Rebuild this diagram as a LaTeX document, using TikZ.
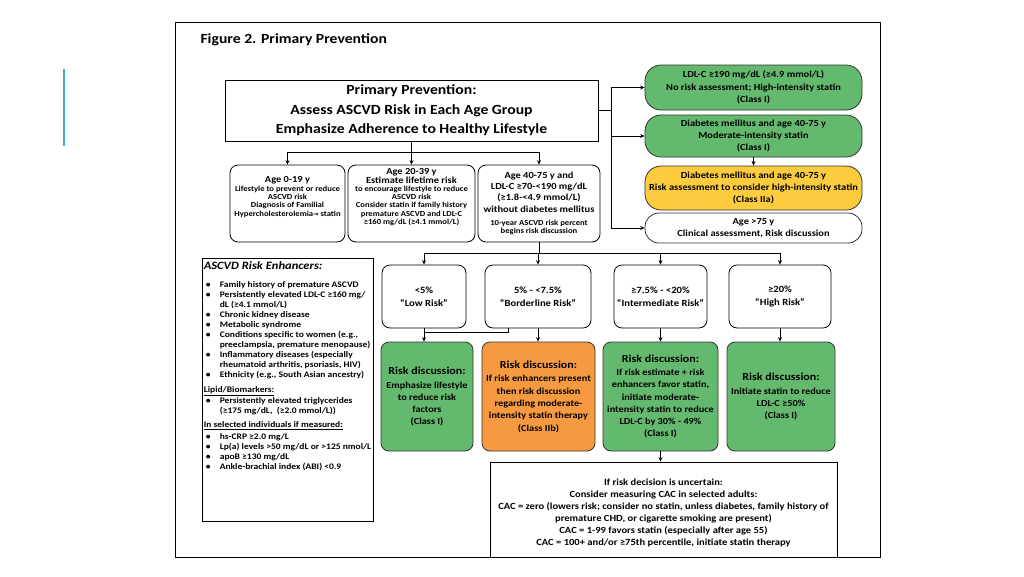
\documentclass[tikz,border=0pt]{standalone}
\usepackage{fontspec}
\setmainfont{Carlito}[FakeStretch=1.12]
\newfontfamily\symfont{DejaVu Sans}
\usetikzlibrary{arrows.meta,calc}

\definecolor{riskgreen}{RGB}{99,186,110}
\definecolor{riskyellow}{RGB}{253,204,62}
\definecolor{riskorange}{RGB}{246,154,66}
\definecolor{slidecyan}{RGB}{75,172,198}

\newcommand{\tightlines}{\lineskiplimit=-5pt\relax}
\tikzset{
	arr/.style={-{Stealth[length=4.5pt,width=4pt]}, line width=0.7pt},
	plain/.style={line width=0.7pt},
	mainbox/.style={draw, line width=0.8pt, minimum width=373pt, minimum height=61pt, inner sep=0pt, align=center, font=\fontsize{14}{19.5}\selectfont\bfseries},
	agebox/.style={draw, line width=0.8pt, rounded corners=8pt, minimum height=77pt, inner sep=0pt, align=center, font=\fontsize{7.7}{8.3}\selectfont\bfseries\tightlines},
	pillbox/.style={draw=black!80, line width=0.8pt, rounded corners=16pt, minimum width=217pt, inner sep=0pt, align=center, font=\fontsize{9.3}{12.3}\selectfont\bfseries},
	riskbox/.style={draw, line width=0.8pt, rounded corners=8pt, minimum height=63pt, inner sep=0pt, align=center, font=\fontsize{9.5}{13}\selectfont\bfseries},
	discbox/.style={draw=black!80, line width=0.8pt, rounded corners=8pt, minimum height=109pt, inner sep=0pt, align=center, font=\fontsize{9.2}{12.3}\selectfont\bfseries},
}
\newcommand{\agebig}{\fontsize{9.3}{11}\selectfont}
\newcommand{\dischead}{\fontsize{10.7}{12}\selectfont}
% lines set as one block, moved up by #1 inside its box
\newcommand{\upblock}[2]{\raisebox{#1}[0pt][0pt]{\begin{tabular}{@{}c@{}}#2\end{tabular}}}

\begin{document}
\begin{tikzpicture}[x=1pt,y=-1pt]
	%%%%% FRAME %%%%%
	\useasboundingbox (0,0) rectangle (1024,576);
	\draw[line width=2pt, color=slidecyan] (64,69) -- (64,146);
	\draw[line width=1pt] (175,22) rectangle (880,557);
	\node[anchor=west, font=\fontsize{14}{16}\selectfont\bfseries] (title) at (197,40) {Figure 2. Primary Prevention};
	
	%%%%% TOP %%%%%
	\node[mainbox] (main) at (411.5,110.5) {Primary Prevention:\\Assess ASCVD Risk in Each Age Group\\Emphasize Adherence to Healthy Lifestyle};
	
	\node[agebox, minimum width=115pt] (age1) at (287.5,203.5) {\upblock{4pt}{{\agebig Age 0-19 y}\\[0.5pt]Lifestyle to prevent or reduce\\ASCVD risk\\Diagnosis of Familial\\Hypercholesterolemia{\symfont\fontsize{6.5}{8}\selectfont→} statin}};
	\node[agebox, minimum width=127pt] (age2) at (411.5,203.5) {\upblock{4pt}{{\agebig Age 20-39 y}\\{\agebig Estimate lifetime risk}\\to encourage lifestyle to reduce\\ASCVD risk\\Consider statin if family history\\premature ASCVD and LDL-C\\≥160 mg/dL (≥4.1 mmol/L)}};
	\node[agebox, minimum width=122pt] (age3) at (539,203.5) {{\agebig Age 40-75 y and}\\[3pt]{\agebig LDL-C ≥70-<190 mg/dL}\\[3pt]{\agebig (≥1.8-<4.9 mmol/L)}\\[3pt]{\agebig without diabetes mellitus}\\[5pt]10-year ASCVD risk percent\\begins risk discussion};
	
	%%%%% RIGHT COLUMN %%%%%
	\node[pillbox, fill=riskgreen, minimum height=45pt] (ldl) at (753.5,87.5) {LDL-C ≥190 mg/dL (≥4.9 mmol/L)\\No risk assessment; High-intensity statin\\(Class I)};
	\node[pillbox, fill=riskgreen, minimum height=42pt] (dm) at (753.5,136) {Diabetes mellitus and age 40-75 y\\Moderate-intensity statin\\(Class I)};
	\node[pillbox, fill=riskyellow, minimum height=44pt] (dmrisk) at (753.5,188) {Diabetes mellitus and age 40-75 y\\Risk assessment to consider high-intensity statin\\(Class IIa)};
	\node[pillbox, rounded corners=14pt, minimum height=30pt, font=\fontsize{9.3}{11.5}\selectfont\bfseries] (old) at (753.5,228) {Age >75 y\\Clinical assessment, Risk discussion};
	
	%%%%% RISK ENHANCERS %%%%%
	\node[draw, line width=0.8pt, minimum width=171pt, minimum height=263pt, inner sep=0pt] (enh) at (287.5,389.5) {};
	\node[anchor=north west, inner sep=0pt, align=left, font=\fontsize{8.5}{10}\selectfont\bfseries] (enhtext) at ($(enh.north west)+(2,4)$) {%
		\begin{tabular}{@{}p{16pt}@{}l@{}}
			\multicolumn{2}{@{}l}{\fontsize{11.2}{12}\selectfont\itshape ASCVD Risk Enhancers:}\\[8pt]
			\hspace{2pt}• & Family history of premature ASCVD\\
			\hspace{2pt}• & Persistently elevated LDL-C ≥160 mg/\\
			& dL (≥4.1 mmol/L)\\
			\hspace{2pt}• & Chronic kidney disease\\
			\hspace{2pt}• & Metabolic syndrome\\
			\hspace{2pt}• & Conditions specific to women (e.g.,\\
			& preeclampsia, premature menopause)\\
			\hspace{2pt}• & Inflammatory diseases (especially\\
			& rheumatoid arthritis, psoriasis, HIV)\\
			\hspace{2pt}• & Ethnicity (e.g., South Asian ancestry)\\[5pt]
			\multicolumn{2}{@{}l}{\underline{Lipid/Biomarkers:}}\\[1pt]
			\hspace{2pt}• & Persistently elevated triglycerides\\
			& (≥175 mg/dL,~ (≥2.0 mmol/L))\\[4pt]
			\multicolumn{2}{@{}l}{\underline{In selected individuals if measured:}}\\[2pt]
			\hspace{2pt}• & hs-CRP ≥2.0 mg/L\\
			\hspace{2pt}• & Lp(a) levels >50 mg/dL or >125 nmol/L\\
			\hspace{2pt}• & apoB ≥130 mg/dL\\
			\hspace{2pt}• & Ankle-brachial index (ABI) <0.9\\
		\end{tabular}};
	
	%%%%% RISK CATEGORIES %%%%%
	\node[riskbox, minimum width=84pt] (low) at (424,296.5) {<5\%\\“Low Risk”};
	\node[riskbox, minimum width=106pt] (border) at (538,296.5) {5\% - <7.5\%\\“Borderline Risk”};
	\node[riskbox, minimum width=93pt] (inter) at (660.5,296.5) {≥7.5\% - <20\%\\“Intermediate Risk”};
	\node[riskbox, minimum width=102pt] (high) at (780,296.5) {≥20\%\\“High Risk”};
	
	\node[discbox, fill=riskgreen, minimum width=92pt] (dlow) at (427,396.5) {{\dischead Risk discussion:}\\[1.5pt]Emphasize lifestyle\\to reduce risk\\factors\\(Class I)};
	\node[discbox, fill=riskorange, minimum width=113pt] (dborder) at (538.5,396.5) {{\dischead Risk discussion:}\\[1.5pt]If risk enhancers present\\then risk discussion\\regarding moderate-\\intensity statin therapy\\(Class IIb)};
	\node[discbox, fill=riskgreen, minimum width=115pt] (dinter) at (660.5,396.5) {{\dischead Risk discussion:}\\[1pt]If risk estimate + risk\\enhancers favor statin,\\initiate moderate-\\intensity statin to reduce\\LDL-C by 30\% - 49\%\\(Class I)};
	\node[discbox, fill=riskgreen, minimum width=108pt] (dhigh) at (781,396.5) {{\dischead Risk discussion:}\\[1.5pt]Initiate statin to reduce\\LDL-C ≥50\%\\(Class I)};
	
	\node[draw, line width=0.8pt, minimum width=347pt, minimum height=95pt, inner sep=0pt, align=center, font=\fontsize{9.4}{12}\selectfont\bfseries] (cac) at (663.5,509.5) {\upblock{-6pt}{If risk decision is uncertain:\\Consider measuring CAC in selected adults:\\CAC = zero (lowers risk; consider no statin, unless diabetes, family history of\\premature CHD, or cigarette smoking are present)\\CAC = 1-99 favors statin (especially after age 55)\\CAC = 100+ and/or ≥75th percentile, initiate statin therapy}};
	
	%%%%% CONNECTORS %%%%%
	\draw[plain] (main.south) -- ++(0,11) coordinate (agesplit);
	\draw[arr] (main.south) -- (age2.north);
	\draw[arr] (agesplit) -| (age1.north);
	\draw[arr] (agesplit) -| (age3.north);
	
	\draw[plain] (main.east) -- ++(13,0) coordinate (rbus);
	\draw[arr] (rbus) |- (ldl.west);
	\draw[arr] (rbus) |- (dm.west);
	\draw[arr] (rbus) |- (old.west);
	\draw[arr] (dm.south) -- (dmrisk.north);
	
	\draw[plain] (age3.south) -- ++(0,11) coordinate (risksplit);
	\draw[arr] (risksplit) -| (low.north);
	\draw[arr] (risksplit) -| (border.north);
	\draw[arr] (risksplit) -| (inter.north);
	\draw[arr] (risksplit) -| (high.north);
	
	\coordinate (lowjoin) at ($(low.south)!0.3!(low.south |- dlow.north)$);
	\draw[arr] (low.south) -- (low.south |- dlow.north);
	\draw[plain] ([xshift=-30pt]border.south) |- (lowjoin);
	\draw[arr] (border.south) -- (border.south |- dborder.north);
	\draw[arr] (inter.south) -- (inter.south |- dinter.north);
	\draw[arr] (high.south) -- (high.south |- dhigh.north);
	\draw[arr] (dinter.south) -- (dinter.south |- cac.north);
	
\end{tikzpicture}
\end{document}
